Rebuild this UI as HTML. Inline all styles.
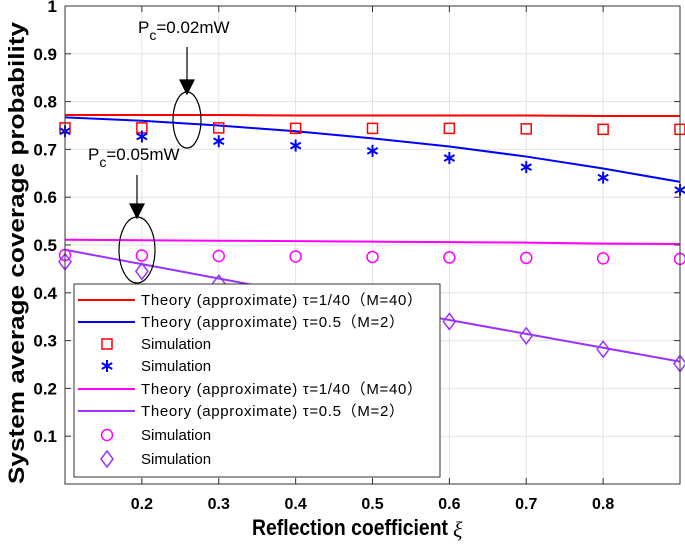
<!DOCTYPE html>
<html><head><meta charset="utf-8"><style>
html,body{margin:0;padding:0;background:#fff;}
svg{display:block;font-family:"Liberation Sans","Noto Sans CJK SC",sans-serif;}
</style></head><body>
<svg id="chart" width="685" height="549">
<g id="grid"></g>
<g id="series"></g>
<g id="axes"></g>
<g stroke="#000" fill="none" stroke-width="1.2">
  <ellipse cx="187" cy="120" rx="14" ry="28"/>
  <line x1="187" y1="47" x2="187" y2="84"/>
  <polygon points="180,80 194,80 187,94" fill="#000"/>
  <ellipse cx="137" cy="250" rx="18" ry="33"/>
  <line x1="137" y1="175" x2="137" y2="208"/>
  <polygon points="130,204 144,204 137,218" fill="#000"/>
</g>
<text x="138" y="33" font-size="17">P<tspan font-size="14" dy="7">c</tspan><tspan dy="-7">=0.02mW</tspan></text>
<text x="88" y="160" font-size="17">P<tspan font-size="14" dy="7">c</tspan><tspan dy="-7">=0.05mW</tspan></text>
<g id="legend"></g>
<text x="252" y="535" font-size="22" font-weight="bold" textLength="196" lengthAdjust="spacingAndGlyphs">Reflection coefficient</text>
<text x="453" y="537" font-size="22" font-family="Liberation Serif" font-style="italic">ξ</text>
<text transform="translate(24,253) rotate(-90)" font-size="22" font-weight="bold" text-anchor="middle" textLength="462" lengthAdjust="spacingAndGlyphs">System average coverage probability</text>
</svg>
<script>
const xVals=[0.1,0.2,0.3,0.4,0.5,0.6,0.7,0.8,0.9];
const redLine=[0.772,0.772,0.772,0.771,0.771,0.771,0.771,0.770,0.770];
const redSquares=[0.745,0.745,0.745,0.744,0.744,0.744,0.743,0.742,0.742];
const blueLine=[0.767,0.760,0.750,0.738,0.723,0.706,0.685,0.660,0.632];
const blueStars=[0.738,0.727,0.717,0.708,0.697,0.682,0.663,0.641,0.615];
const magLine=[0.511,0.510,0.509,0.508,0.507,0.506,0.505,0.503,0.502];
const magCircles=[0.479,0.478,0.477,0.476,0.475,0.474,0.473,0.472,0.471];
const purLine=[0.490,0.460,0.430,0.400,0.371,0.343,0.314,0.285,0.256];
const purDiamonds=[0.465,0.445,0.420,0.392,0.365,0.340,0.310,0.282,0.252];
const xTicks=[0.2,0.3,0.4,0.5,0.6,0.7,0.8];
const yTicks=[0.1,0.2,0.3,0.4,0.5,0.6,0.7,0.8,0.9,1];
const L=65,R=680,T=6,B=484;
const sx=v=>L+(v-0.1)/0.8*(R-L);
const sy=v=>B-v*(B-T);
const NS='http://www.w3.org/2000/svg';
function mk(tag,attrs,parent){const e=document.createElementNS(NS,tag);for(const k in attrs)e.setAttribute(k,attrs[k]);parent.appendChild(e);return e;}
const grid=document.getElementById('grid'),axes=document.getElementById('axes'),ser=document.getElementById('series');
xTicks.forEach(v=>{const g=mk('line',{x1:sx(v),x2:sx(v),y1:T,y2:B,stroke:'#e3e3e3'},grid);


const t=mk('text',{x:sx(v),y:B+25,'font-size':16,'font-weight':'bold','text-anchor':'middle'},axes);t.textContent=v.toFixed(1);


mk('line',{x1:sx(v),x2:sx(v),y1:B,y2:B-6,stroke:'#333'},axes);
mk('line',{x1:sx(v),x2:sx(v),y1:T,y2:T+6,stroke:'#333'},axes);});
yTicks.forEach(v=>{const g=mk('line',{x1:L,x2:R,y1:sy(v),y2:sy(v),stroke:'#e3e3e3'},grid);


const t=mk('text',{x:L-8,y:sy(v)+6,'font-size':17,'font-weight':'bold','text-anchor':'end'},axes);t.textContent=(v===1?'1':v.toFixed(1));


mk('line',{x1:L,x2:L+6,y1:sy(v),y2:sy(v),stroke:'#333'},axes);
mk('line',{x1:R,x2:R-6,y1:sy(v),y2:sy(v),stroke:'#333'},axes);});
const box=mk('rect',{x:L,y:T,width:R-L,height:B-T,fill:'none',stroke:'#333','stroke-width':1},axes);


function line(vals,color,name){const p=mk('polyline',{points:vals.map((v,i)=>sx(xVals[i])+','+sy(v)).join(' '),fill:'none',stroke:color,'stroke-width':2},ser);

}
function marker(type,cx,cy,color,parent){let e;
if(type==='sq')e=mk('rect',{x:cx-5,y:cy-5,width:10,height:10,fill:'none',stroke:color,'stroke-width':1.5},parent);
else if(type==='ci')e=mk('circle',{cx:cx,cy:cy,r:5.5,fill:'none',stroke:color,'stroke-width':1.5},parent);
else if(type==='di')e=mk('polygon',{points:`${cx},${cy-8} ${cx+6},${cy} ${cx},${cy+8} ${cx-6},${cy}`,fill:'none',stroke:color,'stroke-width':1.5},parent);
else{e=mk('g',{stroke:color,'stroke-width':2},parent);[[0,6],[5.2,3],[5.2,-3]].forEach(([dx,dy])=>mk('line',{x1:cx-dx,y1:cy-dy,x2:cx+dx,y2:cy+dy},e));}
return e;}
function pts(vals,type,color,name){vals.forEach((v,i)=>{const m=marker(type,sx(xVals[i]),sy(v),color,ser);

});}
line(redLine,'#ff0000','theory-tau-1-40-pc002');
line(blueLine,'#0000ff','theory-tau-05-pc002');
line(magLine,'#ff00ff','theory-tau-1-40-pc005');
line(purLine,'#9933ff','theory-tau-05-pc005');
pts(redSquares,'sq','#ff0000','sim-square');
pts(blueStars,'st','#0000ff','sim-star');
pts(magCircles,'ci','#ff00ff','sim-circle');
pts(purDiamonds,'di','#9933ff','sim-diamond');
const lg=document.getElementById('legend');
mk('rect',{x:74,y:284,width:366,height:193,fill:'#fff',stroke:'#333','stroke-width':1},lg);
const entries=[['l','#ff0000','Theory (approximate)  τ=1/40（M=40）',281],['l','#0000ff','Theory (approximate)  τ=0.5（M=2）',263],['sq','#ff0000','Simulation',0],['st','#0000ff','Simulation',0],['l','#ff00ff','Theory (approximate)  τ=1/40（M=40）',281],['l','#9933ff','Theory (approximate)  τ=0.5（M=2）',263],['ci','#ff00ff','Simulation',0],['di','#9933ff','Simulation',0]];
const rowsY=[300,322,344,366,389,411,435,459];
entries.forEach((e,i)=>{const y=rowsY[i];
if(e[0]==='l'){const s=mk('line',{x1:78,x2:135,y1:y,y2:y,stroke:e[1],'stroke-width':2},lg);

}
else{const m=marker(e[0],107,y,e[1],lg);

}
const a={x:141,y:y+5,'font-size':15};if(e[3])a.textLength=e[3];
const t=mk('text',a,lg);t.textContent=e[2];

});
</script>
</body></html>
